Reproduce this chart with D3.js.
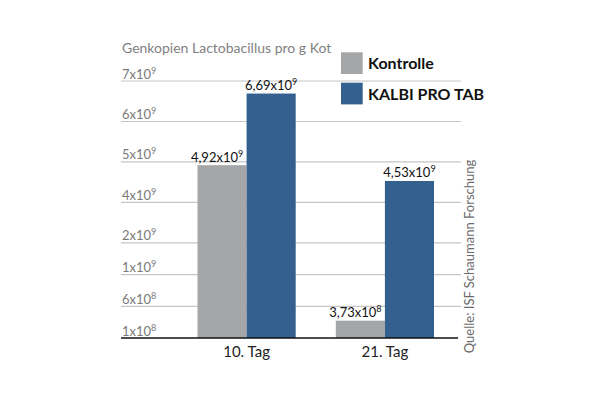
<!DOCTYPE html>
<html lang="de">
<head>
<meta charset="UTF-8">
<title>Genkopien Lactobacillus pro g Kot</title>
<style>
  html, body { margin: 0; padding: 0; background: #fff; }
  svg { display: block; font-family: Lato, "Open Sans", sans-serif; }
</style>
</head>
<body>
<svg id="chart" width="608" height="405"></svg>
<script src="https://cdnjs.cloudflare.com/ajax/libs/d3/7.8.5/d3.min.js"></script>
<script>
// data
var days = ["10. Tag", "21. Tag"];
var series = ["Kontrolle", "KALBI PRO TAB"];
var kontrolle = [4.92e9, 3.73e8];
var kalbi = [6.69e9, 4.53e9];
var valueLabels = [["4,92x10", "9"], ["3,73x10", "8"]];
var kalbiLabels = [["6,69x10", "9"], ["4,53x10", "9"]];
var tickValues = [1e8, 6e8, 1e9, 2e9, 4e9, 5e9, 6e9, 7e9];
var tickLabels = [["1x10", "8"], ["6x10", "8"], ["1x10", "9"], ["2x10", "9"],
                  ["4x10", "9"], ["5x10", "9"], ["6x10", "9"], ["7x10", "9"]];

var colors = ["#a4a6a7", "#33608f"];

var svg = d3.select("#chart");

// layout
var plotLeft = 121, plotRight = 461, plotBottom = 338, plotTop = 81;
// the original axis is not linear: lower steps are narrower than upper ones
var lowStep = 31.7, highStep = (plotBottom - plotTop - 3 * lowStep) / 4;
var tickPos = tickValues.map(function (d, i) {
    return i <= 3 ? plotBottom - i * lowStep : plotBottom - 3 * lowStep - (i - 3) * highStep;
});

var y = d3.scaleLinear().domain(tickValues).range(tickPos);

var x = d3.scaleBand().domain(days).range([197.5, 434]).paddingInner(0.29).paddingOuter(0);
var xs = d3.scaleBand().domain(series).range([0, x.bandwidth()]);

// title
svg.append("text")
    .attr("x", 122).attr("y", 53)
    .attr("fill", "#7f7f7f")
    .style("font-size", "14px")
    .text("Genkopien Lactobacillus pro g Kot");

// gridlines
svg.append("g").selectAll("line")
    .data(tickValues.slice(1))
    .enter().append("line")
    .attr("x1", plotLeft).attr("x2", plotRight)
    .attr("y1", function (d) { return y(d); })
    .attr("y2", function (d) { return y(d); })
    .attr("stroke", "#c6c6c6")
    .attr("stroke-width", 1.2);

// tick labels
var tl = svg.append("g").selectAll("text")
    .data(tickValues)
    .enter().append("text")
    .attr("x", 122)
    .attr("y", function (d) { return y(d) - 2.5; })
    .attr("fill", "#7a7a7a")
    .style("font-size", "13px");
tl.append("tspan").text(function (d, i) { return tickLabels[i][0]; });
tl.append("tspan").attr("dy", -5).style("font-size", "9px")
    .text(function (d, i) { return tickLabels[i][1]; });

// bars
var rows = days.map(function (d, i) {
    return { day: d, values: [
        { s: series[0], v: kontrolle[i], lab: valueLabels[i] },
        { s: series[1], v: kalbi[i], lab: kalbiLabels[i] }
    ] };
});

var groups = svg.append("g").selectAll("g")
    .data(rows)
    .enter().append("g")
    .attr("transform", function (d) { return "translate(" + x(d.day) + ",0)"; });

groups.selectAll("rect")
    .data(function (d) { return d.values; })
    .enter().append("rect")
    .attr("x", function (d) { return xs(d.s); })
    .attr("width", xs.bandwidth())
    .attr("y", function (d) { return y(d.v); })
    .attr("height", function (d) { return y(tickValues[0]) - y(d.v); })
    .attr("fill", function (d, i) { return colors[i]; });

var vl = groups.selectAll("text.val")
    .data(function (d) { return d.values; })
    .enter().append("text")
    .attr("class", "val")
    .attr("x", function (d, i) { return xs(d.s) + xs.bandwidth() / 2 - (i === 0 ? 5 : 0); })
    .attr("y", function (d) { return y(d.v) - 3.5; })
    .attr("text-anchor", "middle")
    .attr("fill", "#111")
    .style("font-size", "13px");
vl.append("tspan").text(function (d) { return d.lab[0]; });
vl.append("tspan").attr("dy", -5).style("font-size", "9px").text(function (d) { return d.lab[1]; });

// x axis line and labels
svg.append("line")
    .attr("x1", plotLeft).attr("x2", 458)
    .attr("y1", plotBottom).attr("y2", plotBottom)
    .attr("stroke", "#111").attr("stroke-width", 1.6);

svg.append("g").selectAll("text")
    .data(days)
    .enter().append("text")
    .attr("x", function (d) { return x(d) + x.bandwidth() / 2; })
    .attr("y", 357)
    .attr("text-anchor", "middle")
    .attr("fill", "#222")
    .style("font-size", "15px")
    .text(function (d) { return d; });

// legend
var lg = svg.append("g").selectAll("g")
    .data(series)
    .enter().append("g")
    .attr("transform", function (d, i) { return "translate(341," + (52.3 + i * 30.4) + ")"; });
lg.append("rect")
    .attr("width", 21.7).attr("height", 21.7)
    .attr("fill", function (d, i) { return colors[i]; });
lg.append("text")
    .attr("x", 27).attr("y", 17)
    .attr("fill", "#111")
    .style("font-size", "16px")
    .style("font-weight", "bold")
    .text(function (d) { return d; });

// source
svg.append("text")
    .attr("transform", "translate(474,256.5) rotate(-90)")
    .attr("text-anchor", "middle")
    .attr("fill", "#6b6b6b")
    .style("font-size", "13px")
    .text("Quelle: ISF Schaumann Forschung");
</script>
</body>
</html>
